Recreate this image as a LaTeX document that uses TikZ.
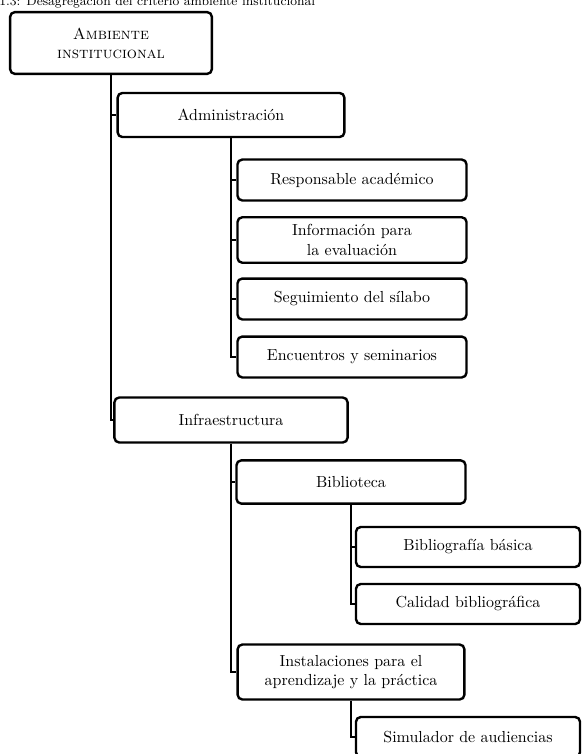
\documentclass[tikz,border=0pt]{standalone}
\usepackage{fontspec}

\begin{document}
\begin{tikzpicture}[x=0.022cm, y=-0.022cm,
	caja/.style={draw, line width=1.5pt, rounded corners=3pt, align=center, inner sep=2pt},
	hoja/.style={caja, minimum width=5.04cm, minimum height=0.9cm},
	subhoja/.style={caja, minimum width=4.93cm, minimum height=0.88cm},
	rama/.style={line width=0.8pt}]

				\useasboundingbox (0,0) rectangle (581,754);
				\clip (0,0) rectangle (581,754);

				\node [anchor=base west, font=\footnotesize, inner sep=0pt] (titulo) at (-1,5)
				{1.3: Desagregación del criterio ambiente institucional};

				\node [caja, minimum width=4.44cm, minimum height=1.36cm] (amb) at (111,43)
				{\textsc{Ambiente}\\\textsc{institucional}};

				\node [caja, minimum width=4.99cm, minimum height=0.97cm] (adm) at (231,115) {Administración};
				\node [hoja] (resp) at (352,180) {Responsable académico};
				\node [hoja, minimum height=1cm] (info) at (352,240) {Información para\\la evaluación};
				\node [hoja] (seg) at (352,299) {Seguimiento del sílabo};
				\node [hoja] (enc) at (352,357) {Encuentros y seminarios};

				\node [caja, minimum width=5.13cm, minimum height=0.99cm] (inf) at (231,420) {Infraestructura};
				\node [hoja, minimum height=0.95cm] (bib) at (351,482) {Biblioteca};
				\node [subhoja] (bb) at (468,547) {Bibliografía básica};
				\node [subhoja] (cal) at (468,604) {Calidad bibliográfica};
				\node [hoja, minimum width=4.99cm, minimum height=1.21cm] (ins) at (351,672)
				{Instalaciones para el\\aprendizaje y la práctica};
				\node [subhoja] (sim) at (468,737) {Simulador de audiencias};

				\draw [rama] (amb.south) |- (adm.west);
				\draw [rama] (amb.south) |- (inf.west);
				\foreach \n in {resp,info,seg,enc}
					\draw [rama] (adm.south) |- (\n.west);
				\foreach \n in {bib,ins}
					\draw [rama] (inf.south) |- (\n.west);
				\foreach \n in {bb,cal}
					\draw [rama] (bib.south) |- (\n.west);
				\draw [rama] (ins.south) |- (sim.west);

			\end{tikzpicture}
\end{document}
